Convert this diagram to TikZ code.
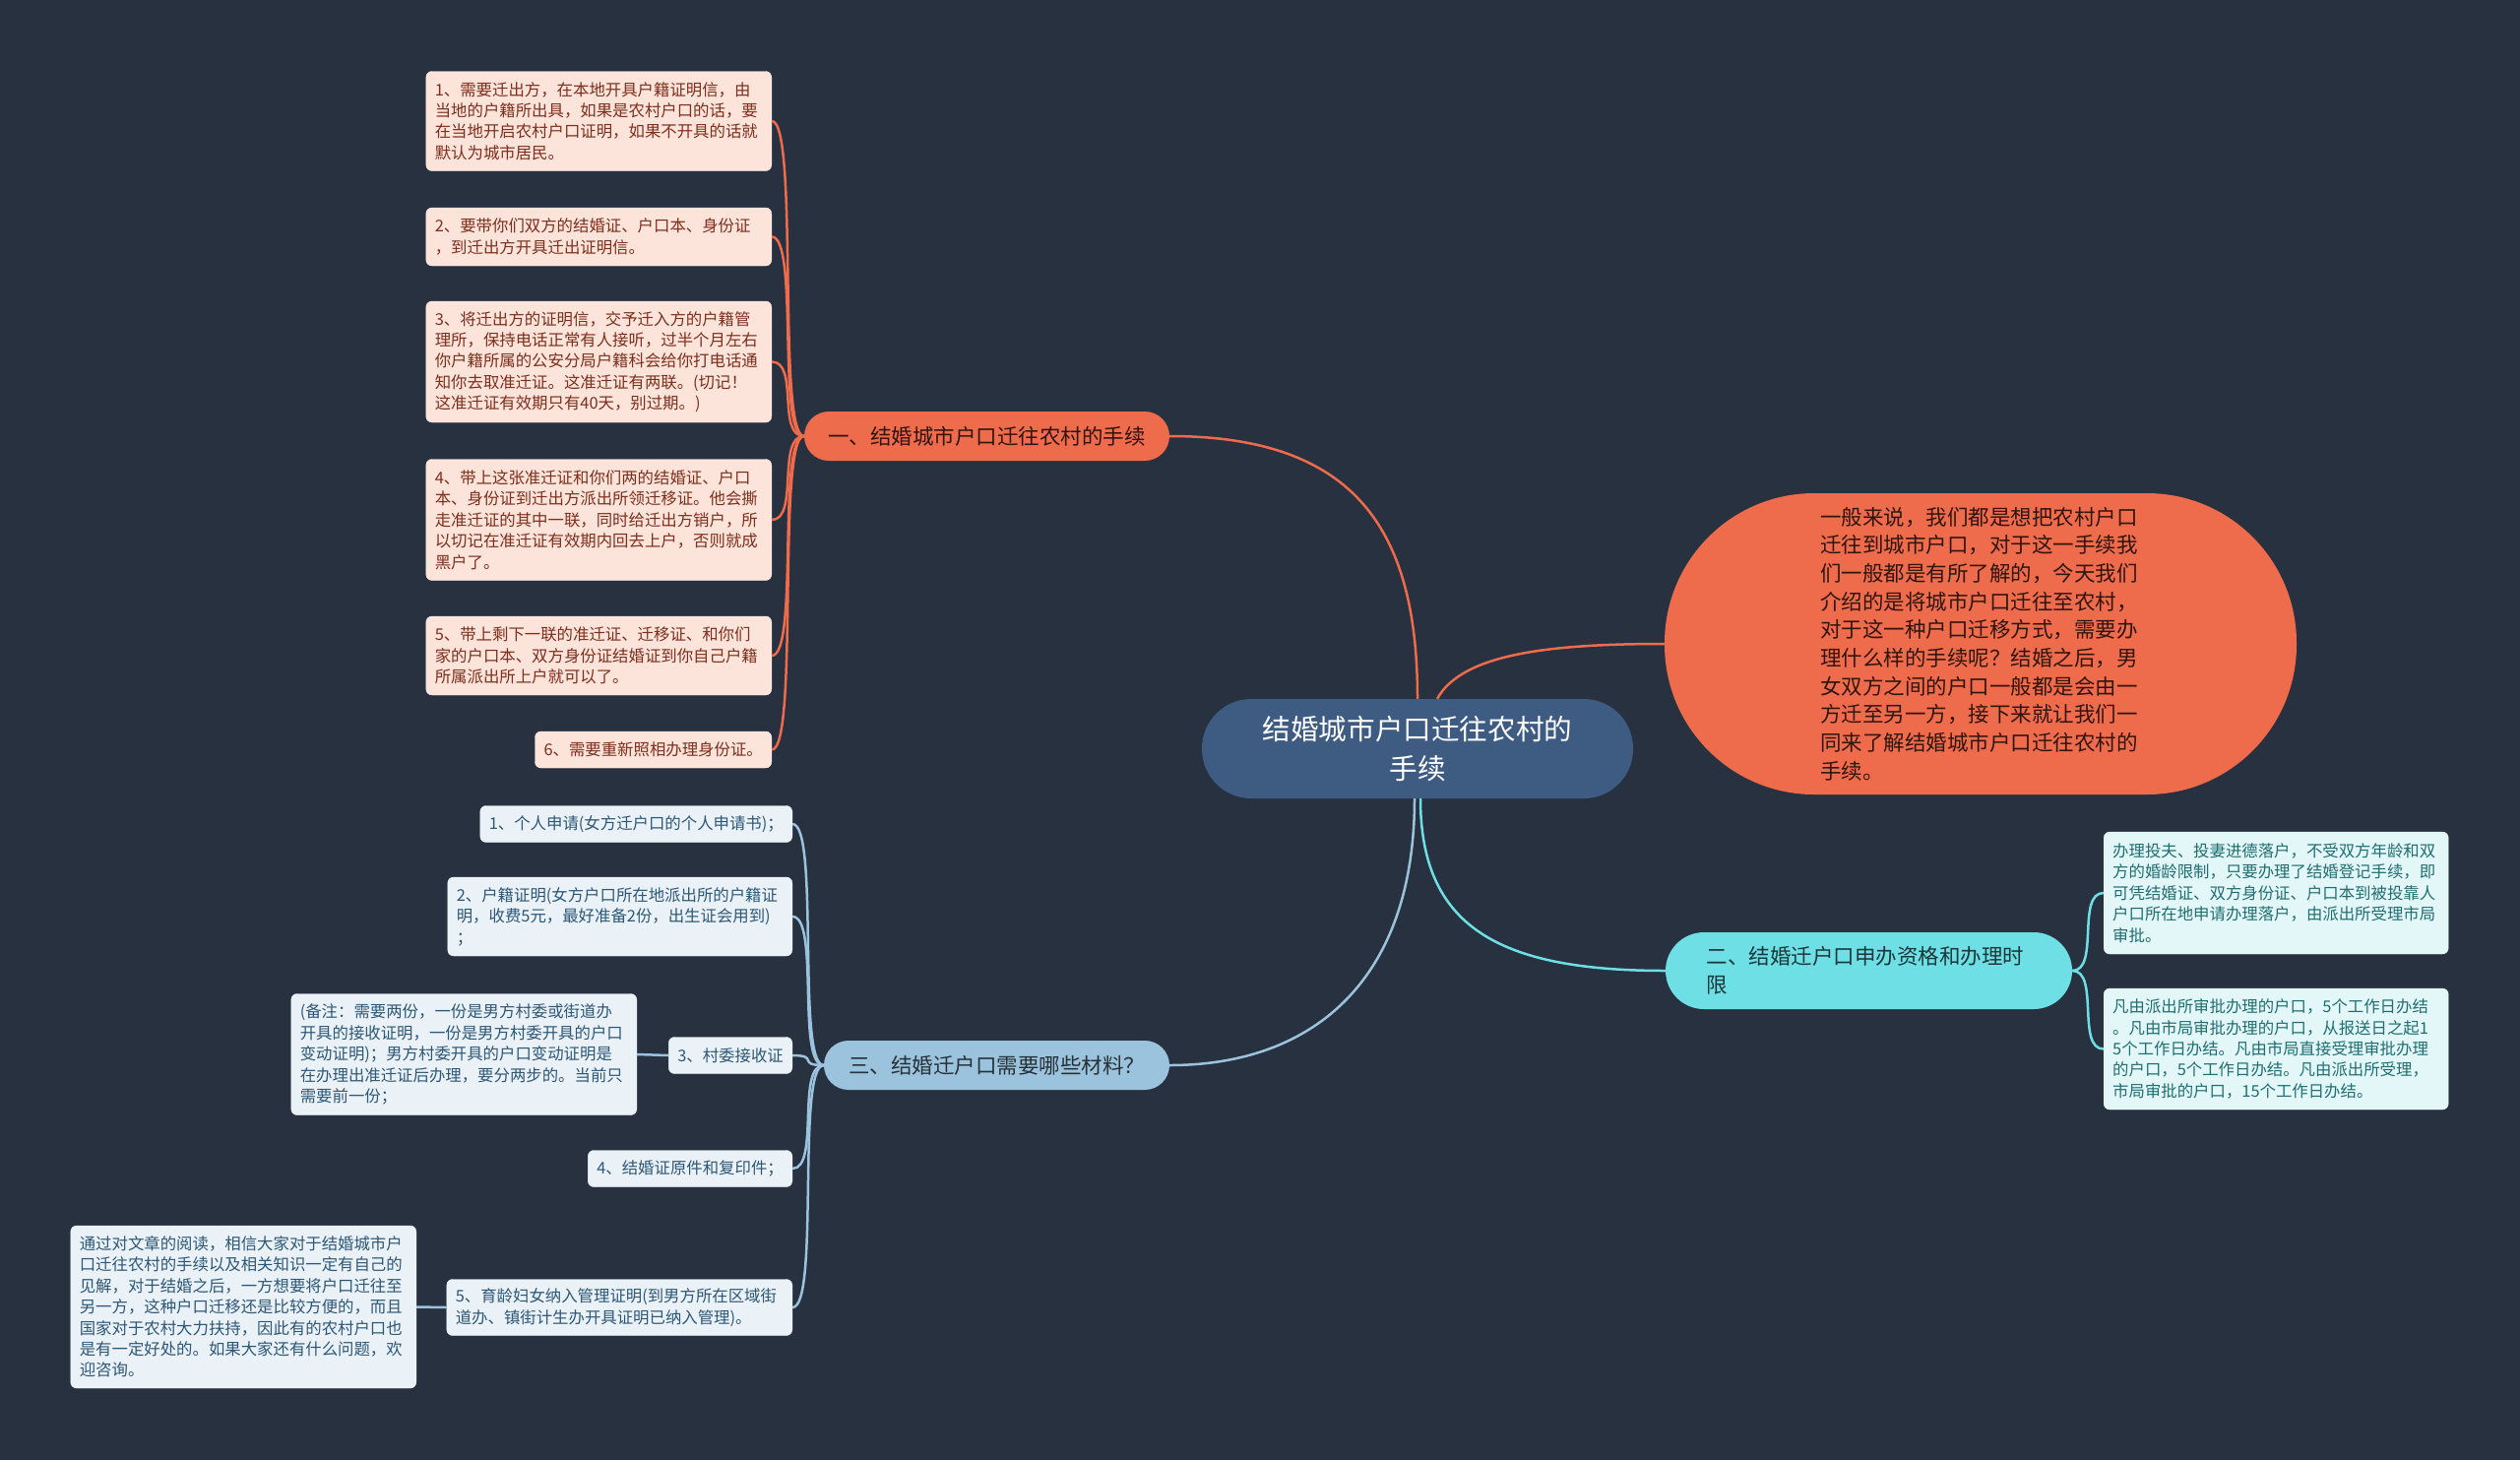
\documentclass[tikz,border=0pt]{standalone}
\usepackage{fontspec}
\newfontfamily\cjk{Noto Sans CJK SC}
\definecolor{bgnavy}{HTML}{283140}
\definecolor{hubblue}{HTML}{3E5B82}
\definecolor{coral}{HTML}{EE6B4C}
\definecolor{coralpale}{HTML}{FDE4DB}
\definecolor{coraltext}{HTML}{7E2E1C}
\definecolor{aqua}{HTML}{6DDFE5}
\definecolor{aquapale}{HTML}{E3F7F8}
\definecolor{aquatext}{HTML}{1F6E72}
\definecolor{sky}{HTML}{9BC3DD}
\definecolor{skypale}{HTML}{EAF2F8}
\definecolor{skytext}{HTML}{2D5776}

\begin{document}
\begin{tikzpicture}[x=1pt, y=-1pt,
  leaf/.style={rectangle, rounded corners=6, align=left, inner xsep=9, inner ysep=0,
    font=\cjk\fontsize{16.4}{21.4}\selectfont},
  lleaf/.style={leaf, fill=coralpale, draw=coralpale!60!white, text=coraltext},
  mleaf/.style={leaf, fill=skypale, draw=skypale!60!white, text=skytext},
  rleaf/.style={leaf, fill=aquapale, draw=aquapale!60!white, text=aquatext},
  branch/.style={rectangle, inner sep=0, font=\cjk\fontsize{21.5}{29}\selectfont},
  olink/.style={coral, line width=2.5},
  clink/.style={aqua, line width=2.5},
  blink/.style={sky, line width=2.5}]
  % --- canvas ---
  \fill[bgnavy] (0,0) rectangle (2560,1483);
  \useasboundingbox (0,0) rectangle (2560,1483);
  % --- centre and main branches ---
  \node[rectangle, rounded corners=50, fill=hubblue, text=white, align=center, inner sep=0,
    minimum width=438, minimum height=101, font=\cjk\fontsize{28.6}{40}\selectfont]
    (hub) at (1440,760.5) {结婚城市户口迁往农村的\\手续};
  \node[branch, rounded corners=25, fill=coral, text=black!80!coral, minimum width=371, minimum height=50]
    (b1) at (1002.5,443) {一、结婚城市户口迁往农村的手续};
  \node[branch, rounded corners=25, fill=sky, text=black!75!sky, minimum width=351, minimum height=50]
    (b3) at (1012.5,1082) {三、结婚迁户口需要哪些材料？};
  \node[branch, rounded corners=39, fill=aqua, text=black!75!aqua, minimum width=413, minimum height=78,
    text width=330, align=left]
    (b2) at (1898.5,986) {二、结婚迁户口申办资格和办理时\\限};
  \node[branch, rounded corners=152, fill=coral, text=black!80!coral, minimum width=642, minimum height=306,
    text width=326, align=left, font=\cjk\fontsize{21.5}{28.7}\selectfont]
    (intro) at (2012,654) {一般来说，我们都是想把农村户口\\迁往到城市户口，对于这一手续我\\们一般都是有所了解的，今天我们\\介绍的是将城市户口迁往至农村，\\对于这一种户口迁移方式，需要办\\理什么样的手续呢？结婚之后，男\\女双方之间的户口一般都是会由一\\方迁至另一方，接下来就让我们一\\同来了解结婚城市户口迁往农村的\\手续。};
  % --- branch one: the steps ---
  \node[lleaf, anchor=east, text width=333, minimum height=101] (l1) at (784,123)
    {1、需要迁出方，在本地开具户籍证明信，由\\当地的户籍所出具，如果是农村户口的话，要\\在当地开启农村户口证明，如果不开具的话就\\默认为城市居民。};
  \node[lleaf, anchor=east, text width=333, minimum height=59] (l2) at (784,240.5)
    {2、要带你们双方的结婚证、户口本、身份证\\，到迁出方开具迁出证明信。};
  \node[lleaf, anchor=east, text width=333, minimum height=123] (l3) at (784,367.5)
    {3、将迁出方的证明信，交予迁入方的户籍管\\理所，保持电话正常有人接听，过半个月左右\\你户籍所属的公安分局户籍科会给你打电话通\\知你去取准迁证。这准迁证有两联。(切记！\\这准迁证有效期只有40天，别过期。)};
  \node[lleaf, anchor=east, text width=333, minimum height=123] (l4) at (784,528)
    {4、带上这张准迁证和你们两的结婚证、户口\\本、身份证到迁出方派出所领迁移证。他会撕\\走准迁证的其中一联，同时给迁出方销户，所\\以切记在准迁证有效期内回去上户，否则就成\\黑户了。};
  \node[lleaf, anchor=east, text width=333, minimum height=80] (l5) at (784,666)
    {5、带上剩下一联的准迁证、迁移证、和你们\\家的户口本、双方身份证结婚证到你自己户籍\\所属派出所上户就可以了。};
  \node[lleaf, anchor=east, minimum height=37] (l6) at (784,761.5) {6、需要重新照相办理身份证。};
  % --- branch three: the papers ---
  \node[mleaf, anchor=east, minimum height=37] (m1) at (805,837) {1、个人申请(女方迁户口的个人申请书)；};
  \node[mleaf, anchor=east, text width=332, minimum height=80] (m2) at (805,931)
    {2、户籍证明(女方户口所在地派出所的户籍证\\明，收费5元，最好准备2份，出生证会用到)\\；};
  \node[mleaf, anchor=east, minimum height=37] (m3) at (805,1072) {3、村委接收证};
  \node[mleaf, anchor=east, text width=333, minimum height=123] (m3note) at (647,1071)
    {(备注：需要两份，一份是男方村委或街道办\\开具的接收证明，一份是男方村委开具的户口\\变动证明)；男方村委开具的户口变动证明是\\在办理出准迁证后办理，要分两步的。当前只\\需要前一份；};
  \node[mleaf, anchor=east, minimum height=37] (m4) at (805,1187) {4、结婚证原件和复印件；};
  \node[mleaf, anchor=east, text width=333, minimum height=57] (m5) at (805,1328)
    {5、育龄妇女纳入管理证明(到男方所在区域街\\道办、镇街计生办开具证明已纳入管理)。};
  \node[mleaf, anchor=east, text width=333, minimum height=165] (m5note) at (423,1327.5)
    {通过对文章的阅读，相信大家对于结婚城市户\\口迁往农村的手续以及相关知识一定有自己的\\见解，对于结婚之后，一方想要将户口迁往至\\另一方，这种户口迁移还是比较方便的，而且\\国家对于农村大力扶持，因此有的农村户口也\\是有一定好处的。如果大家还有什么问题，欢\\迎咨询。};
  % --- branch two: who and how long ---
  \node[rleaf, anchor=west, text width=332, minimum height=124] (r1) at (2137,907)
    {办理投夫、投妻进德落户，不受双方年龄和双\\方的婚龄限制，只要办理了结婚登记手续，即\\可凭结婚证、双方身份证、户口本到被投靠人\\户口所在地申请办理落户，由派出所受理市局\\审批。};
  \node[rleaf, anchor=west, text width=332, minimum height=123] (r2) at (2137,1065.5)
    {凡由派出所审批办理的户口，5个工作日办结\\。凡由市局审批办理的户口，从报送日之起1\\5个工作日办结。凡由市局直接受理审批办理\\的户口，5个工作日办结。凡由派出所受理，\\市局审批的户口，15个工作日办结。};
  % --- links ---
  \draw[olink] (hub.north) .. controls +(0,-170) and +(190,0) .. (b1.east);
  \draw[olink] ([xshift=20]hub.north) .. controls +(25,-45) and +(-120,0) .. (intro.west);
  \draw[clink] ([xshift=3]hub.south) .. controls +(0,130) and +(-170,0) .. (b2.west);
  \draw[blink] ([xshift=-3]hub.south) .. controls +(0,180) and +(150,0) .. (b3.east);
  \foreach \n in {l1,l2,l3,l4,l5,l6}
    \draw[olink] (b1.west) .. controls +(-28,0) and +(28,0) .. (\n.east);
  \foreach \n in {m1,m2,m3,m4,m5}
    \draw[blink] (b3.west) .. controls +(-28,0) and +(28,0) .. (\n.east);
  \foreach \n in {r1,r2}
    \draw[clink] (b2.east) .. controls +(28,0) and +(-28,0) .. (\n.west);
  \draw[blink] (m3note.east) -- (m3.west);
  \draw[blink] (m5note.east) -- (m5.west);
\end{tikzpicture}
\end{document}
